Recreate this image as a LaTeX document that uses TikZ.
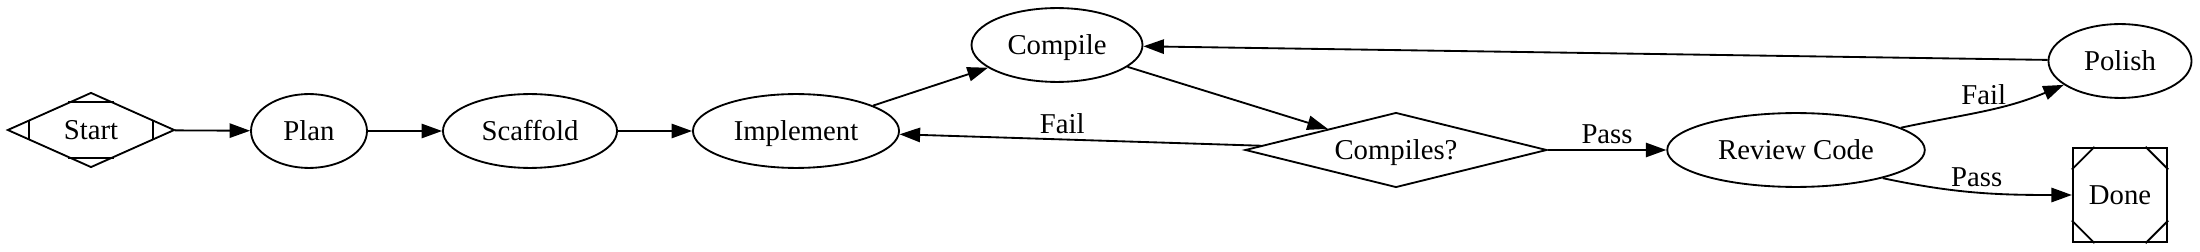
\documentclass[tikz,border=0pt]{standalone}
\usepackage{fontspec}
\setmainfont{Liberation Serif}
\usetikzlibrary{shapes.geometric,arrows.meta,calc}
\tikzset{
  every node/.style={font=\fontsize{14}{16}\selectfont, text height=11pt, text depth=1.5pt},
  >={Triangle[length=10pt,width=7pt]},
  state/.style={draw, ellipse, minimum height=36pt, minimum width=#1, inner sep=1pt},
  test/.style={draw, diamond, aspect=2.5, minimum height=36.5pt, minimum width=#1, inner sep=0pt},
  stop/.style={draw, rectangle, minimum size=46pt, inner sep=0pt},
  flow/.style={->, line width=.9pt},
  tag/.style={above, inner sep=1pt}
}
\begin{document}
\begin{tikzpicture}[x=.4872pt,y=.4872pt,line width=.9pt]
\useasboundingbox (0,0) rectangle (2200,251);
% nodes
\node[test=81.4pt] (start) at (91,121) {Start};
\node[state=56.5pt] (plan) at (309,120) {Plan};
\node[state=84.8pt] (scaffold) at (530,120) {Scaffold};
\node[state=100.4pt] (implement) at (796,120) {Implement};
\node[state=83.3pt] (compile) at (1057,206) {Compile};
\node[test=147pt] (check) at (1396,101) {Compiles?};
\node[state=125.5pt] (review) at (1796,101) {Review Code};
\node[state=69.7pt] (polish) at (2120,190) {Polish};
\node[stop] (done) at (2120,56) {Done};
% corner marks
\foreach \a/\b/\c in {north/west/east, south/west/east, west/north/south, east/north/south}
  \draw ($(start.\a)!.27!(start.\b)$) -- ($(start.\a)!.27!(start.\c)$);
\foreach \c/\h/\v in {north west/north east/south west, north east/north west/south east,
                      south west/south east/north west, south east/south west/north east}
  \draw ($(done.\c)!11pt!(done.\h)$) -- ($(done.\c)!11pt!(done.\v)$);
% edges
\draw[flow] (start) -- (plan);
\draw[flow] (plan) -- (scaffold);
\draw[flow] (scaffold) -- (implement);
\draw[flow] (implement) -- (compile);
\draw[flow] (compile) -- (check);
\draw[flow] (check) -- node[tag,pos=.55]{Fail} (implement);
\draw[flow] (check) -- node[tag]{Pass} (review);
\draw[flow] (review.12) to[out=12,in=203] node[tag,pos=.5]{Fail} (polish);
\draw[flow] (review.-18) to[out=-12,in=180] node[tag,pos=.5]{Pass} (done);
\draw[flow] (polish) -- (compile);
\end{tikzpicture}
\end{document}
